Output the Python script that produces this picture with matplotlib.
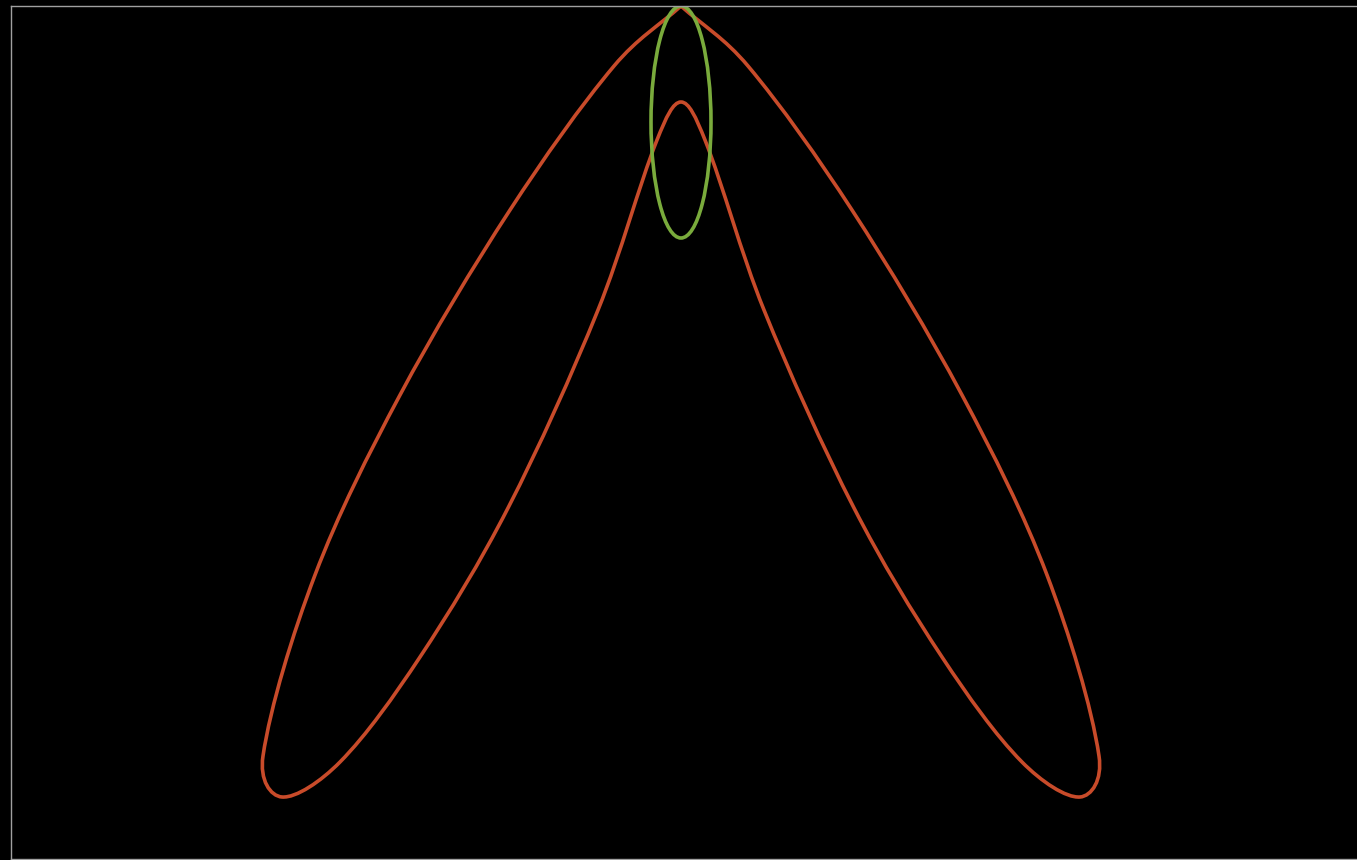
import numpy as np
from matplotlib import pyplot as plt
from matplotlib.path import Path
from matplotlib.patches import PathPatch, Ellipse

# red line (x centred on the peak, y up from the bottom)
# it starts and ends at the top point
loop_x = [0, -67, -171, -281, -366, -418, -399,
          -341, -261, -173, -83, -24, 0,
          24, 83, 173, 261, 341, 399, 418, 366, 281, 171, 67, 0]
loop_y = [854, 794, 650, 465, 285, 104, 63,
          98, 203, 352, 550, 720, 758,
          720, 550, 352, 203, 98, 63, 104, 285, 465, 650, 794, 854]

# green ellipse
ell_center = (0, 738)
ell_width = 60
ell_height = 232


def smooth_line(xs, ys):
    # catmull-rom style bezier through the points, tangents scaled by sqrt chord length
    p = np.column_stack([xs, ys]).astype(float)
    n = len(p)
    verts = [p[0]]
    codes = [Path.MOVETO]
    for i in range(n - 1):
        p0 = p[max(i - 1, 0)]
        p1, p2 = p[i], p[i + 1]
        p3 = p[min(i + 2, n - 1)]
        d01 = np.hypot(*(p1 - p0)) ** 0.5
        d12 = np.hypot(*(p2 - p1)) ** 0.5
        d23 = np.hypot(*(p3 - p2)) ** 0.5
        c1 = p1 + (p2 - p0) * d12 / (d01 + d12) / 3
        c2 = p2 - (p3 - p1) * d12 / (d12 + d23) / 3
        verts += [c1, c2, p2]
        codes += [Path.CURVE4] * 3
    return Path(verts, codes)


fig = plt.figure(figsize=(13.57, 8.6), dpi=100, facecolor="black")
ax = fig.add_axes([11 / 1357, 1 / 860, 1 - 11 / 1357, 853 / 860])
ax.set_facecolor("black")

ax.add_patch(PathPatch(smooth_line(loop_x, loop_y), fill=False,
                       edgecolor="#c84b2a", lw=2.6, joinstyle="round"))
ax.add_patch(Ellipse(ell_center, ell_width, ell_height, fill=False,
                     edgecolor="#7aab3c", lw=2.6))

ax.set_xlim(-670, 676)
ax.set_ylim(1, 854)
ax.set_xticks([])
ax.set_yticks([])
for s in ["left", "top", "bottom"]:
    ax.spines[s].set_color("#a0a0a0")
    ax.spines[s].set_linewidth(1)
ax.spines["right"].set_visible(False)

plt.savefig("out.png", dpi=100, facecolor="black")
